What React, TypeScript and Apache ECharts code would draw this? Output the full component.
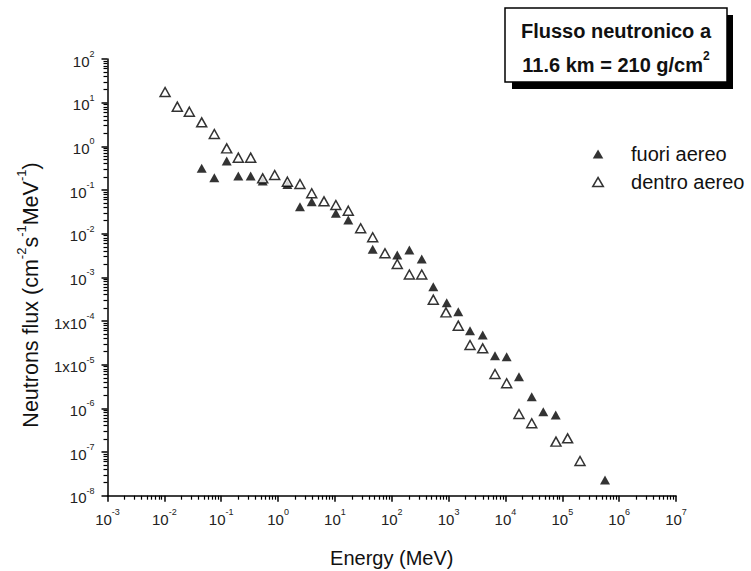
import React, { useEffect, useRef } from "react";
import * as echarts from "echarts";

// ---- data ----
const energyOutside = [0.0454, 0.0757, 0.125, 0.2, 0.33, 0.537, 1.46, 2.43, 3.91, 10.4, 17.2, 46.2, 125, 204, 337, 538, 927, 1480, 2380, 3980, 6550, 10500, 17300, 29000, 46300, 76600, 564000];
const fluxOutside = [0.314, 0.191, 0.461, 0.209, 0.209, 0.161, 0.134, 0.0415, 0.054, 0.0292, 0.0206, 0.00439, 0.00325, 0.00423, 0.00263, 6.11e-4, 2.63e-4, 1.63e-4, 6.0e-5, 4.79e-5, 1.61e-5, 1.52e-5, 5.31e-6, 1.85e-6, 8.39e-7, 7.05e-7, 2.29e-8];

const energyInside = [0.0103, 0.0169, 0.0275, 0.0454, 0.0757, 0.125, 0.2, 0.33, 0.537, 0.873, 1.46, 2.43, 3.91, 6.43, 10.4, 17.2, 28.4, 46.2, 76.0, 125, 204, 337, 538, 899, 1480, 2380, 3980, 6550, 10500, 17300, 29000, 77400, 124000, 205000];
const fluxInside = [17.5, 8.09, 6.21, 3.55, 1.92, 0.9, 0.55, 0.55, 0.185, 0.221, 0.155, 0.137, 0.0841, 0.0551, 0.0454, 0.0336, 0.0133, 0.00826, 0.00356, 0.00202, 0.00116, 0.00116, 3.08e-4, 1.58e-4, 7.82e-5, 2.82e-5, 2.37e-5, 6.12e-6, 3.75e-6, 7.43e-7, 4.55e-7, 1.73e-7, 2.06e-7, 6.24e-8];

const seriesNames = ["fuori aereo", "dentro aereo"];

const xTicks = [1e-3, 1e-2, 1e-1, 1, 10, 100, 1e3, 1e4, 1e5, 1e6, 1e7];
const xTickLabels = ["10^-3", "10^-2", "10^-1", "10^0", "10^1", "10^2", "10^3", "10^4", "10^5", "10^6", "10^7"];
const yTicks = [1e-8, 1e-7, 1e-6, 1e-5, 1e-4, 1e-3, 1e-2, 1e-1, 1, 10, 100];
const yTickLabels = ["10^-8", "10^-7", "10^-6", "1x10^-5", "1x10^-4", "10^-3", "10^-2", "10^-1", "10^0", "10^1", "10^2"];
const minorFactors = [2, 3, 4, 5, 6, 7, 8, 9];

const titleLine1 = "Flusso neutronico a";
const titleLine2 = "11.6 km = 210 g/cm";
const titleSup = "2";
const xName = "Energy (MeV)";

const FONT = "'Liberation Sans', Arial, Helvetica, sans-serif";

function richTick(v: number, ticks: number[], labels: string[]) {
  const e = Math.round(Math.log10(v));
  const idx = ticks.findIndex((t) => Math.round(Math.log10(t)) === e);
  if (idx < 0) return "";
  const [base, exp] = labels[idx].split("^");
  return `{b|${base}}{s|${exp}}`;
}

const tickRich = {
  b: { fontSize: 15, fontFamily: FONT, color: "#222", padding: [4, 0, 0, 0], verticalAlign: "bottom" },
  s: { fontSize: 9, fontFamily: FONT, color: "#222", verticalAlign: "top" },
};

export default function App() {
  const ref = useRef<HTMLDivElement>(null);
  useEffect(() => {
    const chart = echarts.init(ref.current!, null, { renderer: "svg" });
    const xMinor = xTicks.slice(0, -1).flatMap((d) => minorFactors.map((k) => k * d));
    const yMinor = yTicks.slice(0, -1).flatMap((d) => minorFactors.map((k) => k * d));
    const axisColor = "#000";
    const option: any = {
      animation: false,
      backgroundColor: "#fff",
      grid: { left: 107.5, top: 59, right: 75, bottom: 75.3, containLabel: false, outerBoundsMode: "none" },
      legend: {
        orient: "vertical",
        left: 592,
        top: 144,
        padding: 0,
        itemWidth: 56,
        itemHeight: 9,
        itemGap: 8,
        textStyle: { fontSize: 20, fontFamily: FONT, color: "#111" },
        data: [
          { name: seriesNames[0], icon: "path://M5,0L10,8.5L0,8.5Z", itemStyle: { color: "#000" } },
          { name: seriesNames[1], icon: "path://M5,0L10,8.5L0,8.5Z", itemStyle: { color: "#fff", borderColor: "#000", borderWidth: 1.5 } },
        ],
      },
      xAxis: [
        {
          type: "log",
          logBase: 10,
          min: 1e-3,
          max: 1e7,
          position: "bottom",
          axisLine: { show: true, lineStyle: { color: axisColor, width: 1.5 } },
          axisTick: { show: true, inside: false, length: 6, customValues: xTicks, lineStyle: { color: axisColor, width: 1.5 } },
          axisLabel: {
            customValues: xTicks,
            margin: 12,
            formatter: (v: number) => richTick(v, xTicks, xTickLabels),
            rich: tickRich,
          },
          splitLine: { show: false },
          name: xName,
          nameLocation: "middle",
          nameGap: 52,
          nameTextStyle: { fontSize: 20, fontFamily: FONT, color: "#111" },
        },
        {
          type: "log",
          logBase: 10,
          min: 1e-3,
          max: 1e7,
          position: "bottom",
          axisLine: { show: false },
          axisTick: { show: true, inside: false, length: 4, customValues: xMinor, lineStyle: { color: axisColor, width: 1.2 } },
          axisLabel: { show: false },
          splitLine: { show: false },
        },
      ],
      yAxis: [
        {
          type: "log",
          logBase: 10,
          min: 1e-8,
          max: 1e2,
          position: "left",
          axisLine: { show: true, lineStyle: { color: axisColor, width: 1.5 } },
          axisTick: { show: true, inside: false, length: 6, customValues: yTicks, lineStyle: { color: axisColor, width: 1.5 } },
          axisLabel: {
            customValues: yTicks,
            margin: 13,
            formatter: (v: number) => richTick(v, yTicks, yTickLabels),
            rich: tickRich,
          },
          splitLine: { show: false },
        },
        {
          type: "log",
          logBase: 10,
          min: 1e-8,
          max: 1e2,
          position: "left",
          axisLine: { show: false },
          axisTick: { show: true, inside: false, length: 4, customValues: yMinor, lineStyle: { color: axisColor, width: 1.2 } },
          axisLabel: { show: false },
          splitLine: { show: false },
        },
      ],
      series: [
        {
          type: "scatter",
          name: seriesNames[0],
          xAxisIndex: 0,
          yAxisIndex: 0,
          symbol: "triangle",
          symbolSize: [10, 9],
          itemStyle: { color: "#000" },
          data: energyOutside.map((e, i) => [e, fluxOutside[i]]),
          z: 2,
        },
        {
          type: "scatter",
          name: seriesNames[1],
          xAxisIndex: 0,
          yAxisIndex: 0,
          symbol: "triangle",
          symbolSize: [10, 9],
          itemStyle: { color: "#fff", borderColor: "#000", borderWidth: 1.5 },
          data: energyInside.map((e, i) => [e, fluxInside[i]]),
          z: 3,
        },
      ],
      graphic: [
        { type: "rect", shape: { x: 512, y: 15, width: 221, height: 74 }, style: { fill: "#000" }, z: 10 },
        { type: "rect", shape: { x: 505, y: 8, width: 222, height: 74 }, style: { fill: "#fff", stroke: "#000", lineWidth: 1.5 }, z: 11 },
        {
          type: "text",
          x: 616,
          y: 31,
          z: 12,
          style: { text: titleLine1, fontSize: 20, fontWeight: "bold", fontFamily: FONT, fill: "#111", align: "center", verticalAlign: "middle" },
        },
        {
          type: "text",
          x: 616,
          y: 62,
          z: 12,
          style: {
            text: `{a|${titleLine2}}{s|${titleSup}}`,
            align: "center",
            verticalAlign: "middle",
            fill: "#111",
            rich: {
              a: { fontSize: 20, fontWeight: "bold", fontFamily: FONT, fill: "#111", padding: [5, 0, 0, 0], verticalAlign: "bottom" },
              s: { fontSize: 12, fontWeight: "bold", fontFamily: FONT, fill: "#111", verticalAlign: "top" },
            },
          },
        },
        {
          type: "text",
          x: 28,
          y: 295,
          rotation: Math.PI / 2,
          z: 12,
          style: {
            text: "{m|Neutrons flux (cm}{s|-2}{m|s}{s|-1}{m|MeV}{s|-1}{m|)}",
            align: "center",
            verticalAlign: "middle",
            fill: "#111",
            rich: {
              m: { fontSize: 21.5, fontFamily: FONT, fill: "#111", padding: [5, 0, 0, 0], verticalAlign: "bottom" },
              s: { fontSize: 13, fontFamily: FONT, fill: "#111", verticalAlign: "top" },
            },
          },
        },
      ],
    };
    chart.setOption(option);
    return () => chart.dispose();
  }, []);
  return <div ref={ref} style={{ position: "absolute", left: 0, top: 0, width: 751, height: 571, background: "#fff" }} />;
}
